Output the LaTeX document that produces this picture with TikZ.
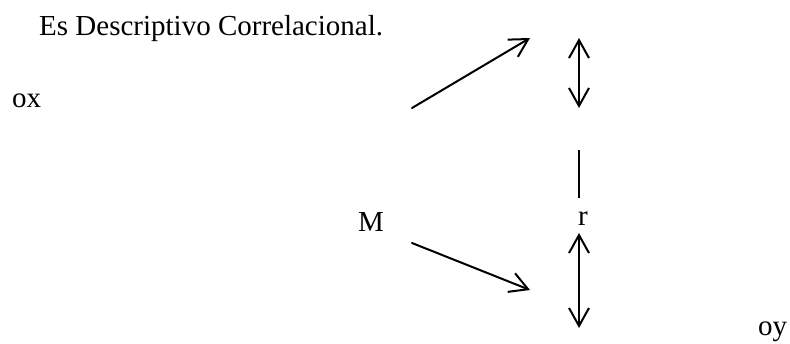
\documentclass[tikz,border=0pt]{standalone}
\usepackage{fontspec}
\setmainfont{Liberation Serif}
\usetikzlibrary{arrows.meta}
\begin{document}
\begin{tikzpicture}[x=1pt,y=-1pt,
  lbl/.style={inner sep=0pt,anchor=base west,font=\fontsize{29}{34}\selectfont},
  conn/.style={line width=2pt,line cap=round},
  onehead/.style={conn,-{Straight Barb[length=18pt,width=20pt]}},
  twohead/.style={conn,{Straight Barb[length=18pt,width=20pt]}-{Straight Barb[length=18pt,width=20pt]}}]
\useasboundingbox (0,0) rectangle (790,343);
\node[lbl] (title) at (39,35) {Es Descriptivo Correlacional.};
\node[lbl] (ox) at (12,107) {ox};
\node[lbl] (M) at (358,231) {M};
\node[lbl] (r) at (578,225) {r};
\node[lbl] (oy) at (758,335) {oy};
\coordinate (ua1) at (412,108);
\coordinate (ua2) at (530,38);
\coordinate (la1) at (412,243);
\coordinate (la2) at (530,290);
\coordinate (ud1) at (579,38);
\coordinate (ud2) at (579,108);
\coordinate (vl1) at (579,150);
\coordinate (vl2) at (579,198);
\coordinate (ld1) at (579,233);
\coordinate (ld2) at (579,328);
\draw[onehead] (ua1) -- (ua2);
\draw[onehead] (la1) -- (la2);
\draw[twohead] (ud1) -- (ud2);
\draw[line width=1.5pt] (vl1) -- (vl2);
\draw[twohead] (ld1) -- (ld2);
\end{tikzpicture}
\end{document}
